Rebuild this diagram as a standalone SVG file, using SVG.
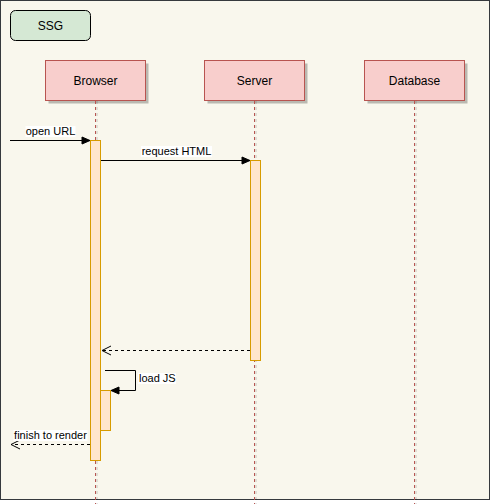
<svg xmlns="http://www.w3.org/2000/svg" width="491" height="504" viewBox="0 0 491 504">
<defs>
<style>
.bg{fill:#f9f7ed;stroke:#36393d;stroke-width:1}
.actor{fill:#f8cecc;stroke:#b85450;stroke-width:1}
.shadow{fill:#000;opacity:0.25}
.life{stroke:#b85450;stroke-width:1;stroke-dasharray:3 3;fill:none}
.lifeS{stroke:#000;opacity:0.2;stroke-width:1;stroke-dasharray:3 3;fill:none}
.act{fill:#ffe6cc;stroke:#d79b00;stroke-width:1}
.t12{font-family:"Liberation Sans",Arial,sans-serif;font-size:12px;fill:#000;text-anchor:middle}
.t11{font-family:"Liberation Sans",Arial,sans-serif;font-size:11px;fill:#000}
.msg{stroke:#000;stroke-width:1;fill:none}
.dash{stroke:#000;stroke-width:1;fill:none;stroke-dasharray:3 3}
.lbl{fill:#fff}
</style>
<marker id="block" markerWidth="10" markerHeight="10" refX="9" refY="5" orient="auto" markerUnits="userSpaceOnUse">
<path d="M1,1.5 L9,5 L1,8.5 Z" fill="#000" stroke="#000"/>
</marker>
<marker id="open" markerWidth="12" markerHeight="12" refX="10" refY="6" orient="auto" markerUnits="userSpaceOnUse">
<path d="M1,1.5 L10,6 L1,10.5" fill="none" stroke="#000"/>
</marker>
</defs>
<rect class="bg" x="0.5" y="0.5" width="489" height="499"/>
<g id="ssg">
<rect x="10.5" y="10.5" width="80" height="30" rx="5" fill="#d5e8d4" stroke="#000"/>
<text class="t12" x="50.5" y="29.5">SSG</text>
</g>
<g id="browser">
<rect class="shadow" x="48.5" y="63.5" width="100" height="40"/>
<rect class="actor" x="45.5" y="60.5" width="100" height="40"/>
<text class="t12" x="95.5" y="84.5">Browser</text>
<line class="lifeS" x1="97" y1="101" x2="97" y2="504"/>
<line class="life" x1="95.5" y1="101" x2="95.5" y2="504"/>
</g>
<g id="server">
<rect class="shadow" x="207.5" y="63.5" width="100" height="40"/>
<rect class="actor" x="204.5" y="60.5" width="100" height="40"/>
<text class="t12" x="254.5" y="84.5">Server</text>
<line class="lifeS" x1="256" y1="101" x2="256" y2="504"/>
<line class="life" x1="254.5" y1="101" x2="254.5" y2="504"/>
</g>
<g id="database">
<rect class="shadow" x="367.5" y="63.5" width="100" height="40"/>
<rect class="actor" x="364.5" y="60.5" width="100" height="40"/>
<text class="t12" x="414.5" y="84.5">Database</text>
<line class="lifeS" x1="416" y1="101" x2="416" y2="504"/>
<line class="life" x1="414.5" y1="101" x2="414.5" y2="504"/>
</g>
<g id="activations">
<rect class="act" x="90.5" y="140.5" width="10" height="320"/>
<rect class="act" x="250.5" y="160.5" width="10" height="200"/>
<rect class="act" x="100.5" y="390.5" width="10" height="40"/>
</g>
<g id="connectors">
<line class="msg" x1="10" y1="140.5" x2="90" y2="140.5" marker-end="url(#block)"/>
<rect class="lbl" x="25.5" y="126" width="50" height="11"/>
<text class="t11" x="50.5" y="135" text-anchor="middle">open URL</text>
<line class="msg" x1="101" y1="160.5" x2="250" y2="160.5" marker-end="url(#block)"/>
<rect class="lbl" x="141" y="146" width="71" height="11"/>
<text class="t11" x="176.5" y="155" text-anchor="middle">request HTML</text>
<line class="dash" x1="250" y1="350.5" x2="102" y2="350.5" marker-end="url(#open)"/>
<path class="msg" d="M105,370.5 H135.5 V390.5 H111" marker-end="url(#block)"/>
<rect class="lbl" x="138" y="373" width="38" height="11"/>
<text class="t11" x="139" y="382">load JS</text>
<line class="dash" x1="90" y1="444.5" x2="11" y2="444.5" marker-end="url(#open)"/>
<rect class="lbl" x="13.5" y="430" width="74" height="11"/>
<text class="t11" x="50.5" y="439" text-anchor="middle">finish to render</text>
</g>
</svg>
